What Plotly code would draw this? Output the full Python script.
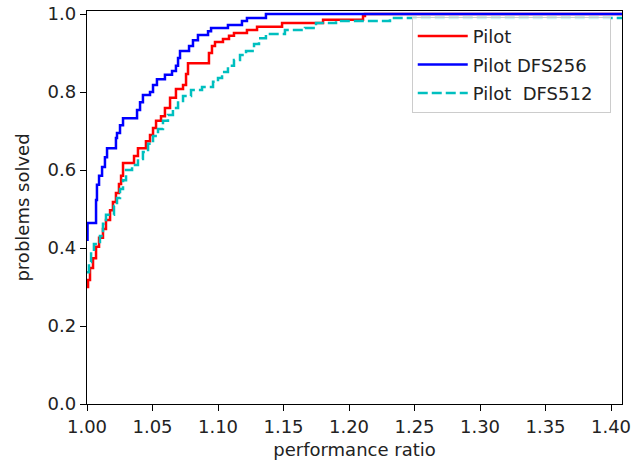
import plotly.graph_objects as go

# Performance-profile step data (x = performance ratio where the curve jumps, y = new level)
pilot_x = [1.0000, 1.0008, 1.0023, 1.0046, 1.0069, 1.0092, 1.0122, 1.0145, 1.0176, 1.0198,
           1.0221, 1.0244, 1.0260, 1.0275, 1.0359, 1.0389, 1.0450, 1.0481, 1.0504, 1.0527,
           1.0565, 1.0595, 1.0634, 1.0679, 1.0733, 1.0756, 1.0771, 1.0931, 1.0954, 1.0977,
           1.1038, 1.1084, 1.1122, 1.1221, 1.1298, 1.1489, 1.1802, 1.2107, 1.2122, 1.5000]
pilot_y = [0.300, 0.318, 0.349, 0.374, 0.403, 0.426, 0.449, 0.472, 0.497, 0.518,
           0.541, 0.564, 0.585, 0.618, 0.636, 0.656, 0.674, 0.690, 0.708, 0.726,
           0.738, 0.759, 0.785, 0.808, 0.818, 0.846, 0.874, 0.900, 0.918, 0.928,
           0.936, 0.944, 0.951, 0.959, 0.967, 0.977, 0.985, 0.995, 1.000, 1.000]

dfs256_x = [1.0000, 1.0004, 1.0069, 1.0076, 1.0092, 1.0115, 1.0137, 1.0153, 1.0221, 1.0229,
            1.0252, 1.0275, 1.0382, 1.0405, 1.0427, 1.0481, 1.0504, 1.0534, 1.0595, 1.0649,
            1.0679, 1.0695, 1.0710, 1.0779, 1.0809, 1.0847, 1.0924, 1.0947, 1.1076, 1.1183,
            1.1221, 1.1366, 1.5000]
dfs256_y = [0.421, 0.464, 0.523, 0.562, 0.585, 0.608, 0.633, 0.656, 0.682, 0.695,
            0.715, 0.733, 0.754, 0.774, 0.792, 0.800, 0.818, 0.833, 0.844, 0.854,
            0.867, 0.887, 0.905, 0.918, 0.933, 0.946, 0.956, 0.964, 0.972, 0.982,
            0.990, 1.000, 1.000]

dfs512_x = [1.0000, 1.0015, 1.0031, 1.0053, 1.0099, 1.0122, 1.0145, 1.0206, 1.0229, 1.0252,
            1.0275, 1.0298, 1.0344, 1.0389, 1.0427, 1.0466, 1.0504, 1.0542, 1.0580, 1.0618,
            1.0656, 1.0695, 1.0733, 1.0794, 1.0878, 1.0962, 1.1000, 1.1031, 1.1076, 1.1122,
            1.1168, 1.1214, 1.1275, 1.1313, 1.1366, 1.1511, 1.1664, 1.1748, 1.1901, 1.2313,
            1.5000]
dfs512_y = [0.338, 0.364, 0.390, 0.410, 0.431, 0.462, 0.485, 0.508, 0.528, 0.551,
            0.574, 0.600, 0.613, 0.628, 0.646, 0.667, 0.687, 0.705, 0.726, 0.741,
            0.759, 0.777, 0.790, 0.805, 0.813, 0.826, 0.836, 0.851, 0.867, 0.882,
            0.895, 0.905, 0.923, 0.938, 0.949, 0.959, 0.964, 0.977, 0.982, 0.990,
            0.990]

x_ticks = [1.00, 1.05, 1.10, 1.15, 1.20, 1.25, 1.30, 1.35, 1.40]
y_ticks = [0.0, 0.2, 0.4, 0.6, 0.8, 1.0]

FONT = "DejaVu Sans"
FS = 18

fig = go.Figure()
fig.add_trace(go.Scatter(x=pilot_x, y=pilot_y, mode="lines", name="Pilot",
                         line=dict(color="#ff0000", width=2.5, shape="hv"), legendgroup="a"))
fig.add_trace(go.Scatter(x=dfs256_x, y=dfs256_y, mode="lines", name="Pilot DFS256",
                         line=dict(color="#0000ff", width=2.5, shape="hv"), legendgroup="b"))
fig.add_trace(go.Scatter(x=dfs512_x, y=dfs512_y, mode="lines", name="Pilot  DFS512\u00a0\u00a0",
                         line=dict(color="#00bfbf", width=2.5, shape="hv", dash="10px,4px"),
                         legendgroup="c"))

axis_common = dict(showline=True, linecolor="black", linewidth=1.4, mirror=True,
                   ticks="outside", ticklen=6, tickwidth=1.4, tickcolor="black",
                   showgrid=False, zeroline=False,
                   tickfont=dict(family=FONT, size=FS, color="#222222"))

fig.update_xaxes(range=[1.0, 1.4084], tickvals=x_ticks,
                 ticktext=[f"{v:.2f}" for v in x_ticks],
                 title=dict(text="performance ratio", font=dict(family=FONT, size=FS, color="#222222"),
                            standoff=7),
                 **axis_common)
fig.update_yaxes(range=[0.0, 1.0077], tickvals=y_ticks,
                 ticktext=[f"{v:.1f}" for v in y_ticks],
                 title=dict(text="problems solved", font=dict(family=FONT, size=FS, color="#222222"),
                            standoff=13),
                 **axis_common)

fig.update_layout(
    width=636, height=463,
    margin=dict(l=87, r=14, t=11, b=59, autoexpand=False),
    plot_bgcolor="white", paper_bgcolor="white",
    font=dict(family=FONT, size=FS, color="#222222"),
    legend=dict(x=0.607, y=0.985, xanchor="left", yanchor="top",
                bgcolor="rgba(255,255,255,0.8)", bordercolor="#cccccc", borderwidth=1,
                font=dict(family=FONT, size=FS, color="#222222"),
                itemwidth=50, traceorder="grouped", tracegroupgap=2),
)

fig.write_html("out.html", config={"displayModeBar": False},
               post_script="document.body.style.margin='0';")
